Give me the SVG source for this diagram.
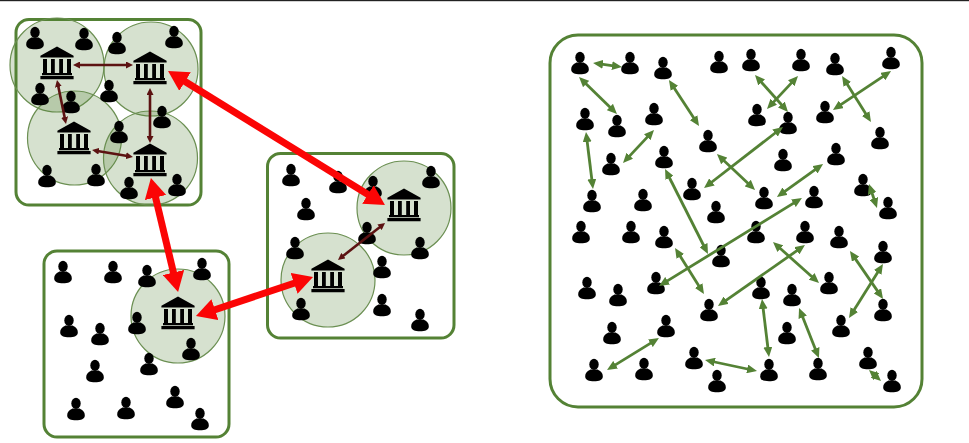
<svg xmlns="http://www.w3.org/2000/svg" width="969" height="443" viewBox="0 0 969 443">
<style>
.box{fill:none;stroke:#548235;stroke-width:3}
.zone{fill:#548235;fill-opacity:.24;stroke:#6b8f52;stroke-width:1.2}
.g line{stroke:#548235;stroke-width:2.8;marker-start:url(#gh);marker-end:url(#gh)}
.d line{stroke:#5c1212;stroke-width:2.6;marker-start:url(#dh);marker-end:url(#dh)}
.r line{stroke:#fb0505;stroke-width:7;marker-start:url(#rh);marker-end:url(#rh)}
</style>
<defs>
<marker id="gh" markerUnits="userSpaceOnUse" markerWidth="10" markerHeight="9" refX="5" refY="4.5" orient="auto-start-reverse"><path d="M0 0L10 4.500L0 9z" fill="#548235"/></marker>
<marker id="dh" markerUnits="userSpaceOnUse" markerWidth="7" markerHeight="7" refX="3" refY="3.5" orient="auto-start-reverse"><path d="M0 0L7 3.500L0 7z" fill="#5c1212"/></marker>
<marker id="rh" markerUnits="userSpaceOnUse" markerWidth="20" markerHeight="22" refX="11" refY="11" orient="auto-start-reverse"><path d="M0 0L20 11L0 22z" fill="#fb0505"/></marker>
<symbol id="person" overflow="visible"><ellipse cx="0" cy="-5.600" rx="4.700" ry="5.600" fill="#000"/><path d="M-8.800 6.500C-8.800 2.800-6.800 1.400-3.600-.5L3.600-.5C6.800 1.400 8.800 2.800 8.800 6.500C8.800 10 5 11.200 0 11.200C-5 11.200-8.800 10-8.800 6.500z" fill="#000"/></symbol>
<symbol id="bank" overflow="visible"><path d="M0-16.500L16.600-7.200L16.600-5.600L-16.600-5.600L-16.600-7.200z M-14-4H-10V10H-14z M-6-4H-2.200V10H-6z M2.200-4H6V10H2.200z M10-4H14V10H10z M-15 10H15V12.200H-15z M-16.600 13H16.600V16.200H-16.600z" fill="#000"/></symbol>
</defs>
<rect width="969" height="443" fill="#fff"/>
<rect width="969" height="1.200" fill="#222"/>
<g id="groupA"><rect class="box" x="16" y="19.500" width="185" height="185.500" rx="13"/></g>
<g id="groupB"><rect class="box" x="267.500" y="153.500" width="186.500" height="184.500" rx="13"/></g>
<g id="groupC"><rect class="box" x="44" y="251" width="185" height="186" rx="13"/></g>
<g id="groupD"><rect class="box" x="550" y="35" width="372" height="372" rx="28"/></g>
<g id="zones">
<circle class="zone" cx="57" cy="65" r="47"/><circle class="zone" cx="151" cy="69" r="47"/><circle class="zone" cx="74.500" cy="138" r="47"/><circle class="zone" cx="150.500" cy="158" r="47"/>
<circle class="zone" cx="404" cy="208" r="47"/><circle class="zone" cx="328" cy="280" r="47"/><circle class="zone" cx="178" cy="316" r="47"/>
</g>
<g id="bank1"><use href="#bank" x="57" y="63"/></g>
<g id="bank2"><use href="#bank" x="150" y="68"/></g>
<g id="bank3"><use href="#bank" x="74" y="138"/></g>
<g id="bank4"><use href="#bank" x="150" y="160"/></g>
<g id="bank5"><use href="#bank" x="404" y="205"/></g>
<g id="bank6"><use href="#bank" x="328" y="276"/></g>
<g id="bank7"><use href="#bank" x="178" y="313"/></g>
<g id="a1"><use href="#person" x="35" y="38"/></g><g id="a2"><use href="#person" x="84" y="39"/></g><g id="a3"><use href="#person" x="117" y="43"/></g><g id="a4"><use href="#person" x="174" y="37"/></g><g id="a5"><use href="#person" x="40" y="94"/></g><g id="a6"><use href="#person" x="109" y="91"/></g><g id="a7"><use href="#person" x="71" y="102"/></g><g id="a8"><use href="#person" x="162" y="117"/></g><g id="a9"><use href="#person" x="119" y="132"/></g><g id="a10"><use href="#person" x="47" y="176"/></g><g id="a11"><use href="#person" x="96" y="175"/></g><g id="a12"><use href="#person" x="129" y="188"/></g><g id="a13"><use href="#person" x="177" y="185"/></g>
<g id="b1"><use href="#person" x="291" y="175"/></g><g id="b2"><use href="#person" x="338" y="182"/></g><g id="b3"><use href="#person" x="373" y="187"/></g><g id="b4"><use href="#person" x="431" y="177"/></g><g id="b5"><use href="#person" x="306" y="209"/></g><g id="b6"><use href="#person" x="367" y="233"/></g><g id="b7"><use href="#person" x="295" y="248"/></g><g id="b8"><use href="#person" x="420" y="248"/></g><g id="b9"><use href="#person" x="382" y="267"/></g><g id="b10"><use href="#person" x="301" y="309"/></g><g id="b11"><use href="#person" x="382" y="305"/></g><g id="b12"><use href="#person" x="420" y="320"/></g>
<g id="c1"><use href="#person" x="63" y="272"/></g><g id="c2"><use href="#person" x="113" y="272"/></g><g id="c3"><use href="#person" x="147" y="276"/></g><g id="c4"><use href="#person" x="202" y="269"/></g><g id="c5"><use href="#person" x="69" y="326"/></g><g id="c6"><use href="#person" x="100" y="334"/></g><g id="c7"><use href="#person" x="137" y="323"/></g><g id="c8"><use href="#person" x="191" y="349"/></g><g id="c9"><use href="#person" x="95" y="371"/></g><g id="c10"><use href="#person" x="149" y="364"/></g><g id="c11"><use href="#person" x="76" y="409"/></g><g id="c12"><use href="#person" x="126" y="408"/></g><g id="c13"><use href="#person" x="175" y="397"/></g><g id="c14"><use href="#person" x="200" y="419"/></g>
<g id="d1"><use href="#person" x="580" y="63"/></g><g id="d2"><use href="#person" x="630" y="63"/></g><g id="d3"><use href="#person" x="663" y="68"/></g><g id="d4"><use href="#person" x="719" y="62"/></g><g id="d5"><use href="#person" x="585" y="119"/></g><g id="d6"><use href="#person" x="617" y="126"/></g><g id="d7"><use href="#person" x="654" y="114"/></g><g id="d8"><use href="#person" x="708" y="141"/></g><g id="d9"><use href="#person" x="611" y="164"/></g><g id="d10"><use href="#person" x="664" y="157"/></g><g id="d11"><use href="#person" x="692" y="189"/></g><g id="d12"><use href="#person" x="592" y="201"/></g><g id="d13"><use href="#person" x="643" y="200"/></g><g id="d14"><use href="#person" x="716" y="212"/></g>
<g id="d15"><use href="#person" x="751" y="60"/></g><g id="d16"><use href="#person" x="801" y="60"/></g><g id="d17"><use href="#person" x="835" y="64"/></g><g id="d18"><use href="#person" x="891" y="58"/></g><g id="d19"><use href="#person" x="757" y="115"/></g><g id="d20"><use href="#person" x="788" y="123"/></g><g id="d21"><use href="#person" x="825" y="112"/></g><g id="d22"><use href="#person" x="880" y="138"/></g><g id="d23"><use href="#person" x="783" y="160"/></g><g id="d24"><use href="#person" x="836" y="154"/></g><g id="d25"><use href="#person" x="863" y="185"/></g><g id="d26"><use href="#person" x="888" y="208"/></g><g id="d27"><use href="#person" x="764" y="198"/></g><g id="d28"><use href="#person" x="814" y="197"/></g>
<g id="d29"><use href="#person" x="581" y="232"/></g><g id="d30"><use href="#person" x="631" y="232"/></g><g id="d31"><use href="#person" x="664" y="237"/></g><g id="d32"><use href="#person" x="721" y="256"/></g><g id="d33"><use href="#person" x="587" y="288"/></g><g id="d34"><use href="#person" x="618" y="295"/></g><g id="d35"><use href="#person" x="656" y="283"/></g><g id="d36"><use href="#person" x="709" y="310"/></g><g id="d37"><use href="#person" x="612" y="333"/></g><g id="d38"><use href="#person" x="666" y="326"/></g><g id="d39"><use href="#person" x="594" y="370"/></g><g id="d40"><use href="#person" x="644" y="369"/></g><g id="d41"><use href="#person" x="694" y="358"/></g><g id="d42"><use href="#person" x="717" y="381"/></g>
<g id="d43"><use href="#person" x="756" y="232"/></g><g id="d44"><use href="#person" x="805" y="232"/></g><g id="d45"><use href="#person" x="839" y="237"/></g><g id="d46"><use href="#person" x="883" y="252"/></g><g id="d47"><use href="#person" x="829" y="283"/></g><g id="d48"><use href="#person" x="761" y="288"/></g><g id="d49"><use href="#person" x="792" y="295"/></g><g id="d50"><use href="#person" x="883" y="310"/></g><g id="d51"><use href="#person" x="841" y="326"/></g><g id="d52"><use href="#person" x="787" y="333"/></g><g id="d53"><use href="#person" x="769" y="370"/></g><g id="d54"><use href="#person" x="818" y="369"/></g><g id="d55"><use href="#person" x="868" y="358"/></g><g id="d56"><use href="#person" x="892" y="381"/></g>
<g id="connectors">
<g class="g">
<line x1="598" y1="63.700" x2="617" y2="66.300"/><line x1="582.600" y1="80.500" x2="613.400" y2="110.500"/><line x1="671.700" y1="84.200" x2="696.300" y2="121.800"/><line x1="650.600" y1="133.600" x2="626.400" y2="159.400"/><line x1="586.600" y1="137" x2="592.400" y2="184"/><line x1="720.600" y1="157.500" x2="751.400" y2="186.500"/><line x1="779" y1="130" x2="708" y2="185"/><line x1="758.300" y1="78.700" x2="784.700" y2="108.300"/><line x1="794.600" y1="79.600" x2="770.400" y2="105.400"/><line x1="844.700" y1="80.200" x2="868.300" y2="117.800"/><line x1="886.900" y1="73.800" x2="837.100" y2="107.200"/><line x1="819" y1="166.900" x2="781" y2="194.100"/><line x1="870.600" y1="188.800" x2="875.400" y2="203.200"/><line x1="797.700" y1="200.600" x2="663.300" y2="283.400"/><line x1="667.300" y1="173.500" x2="705.700" y2="249.500"/><line x1="677.700" y1="252.200" x2="701.300" y2="289.800"/><line x1="800.900" y1="247.900" x2="722.100" y2="303.100"/><line x1="776.700" y1="245.300" x2="815.300" y2="279.700"/><line x1="852.800" y1="255.100" x2="880.200" y2="294.900"/><line x1="880.300" y1="268.200" x2="851.700" y2="313.800"/><line x1="762.600" y1="304" x2="768.400" y2="352"/><line x1="800.900" y1="312.600" x2="817.100" y2="353.400"/><line x1="654.700" y1="340.600" x2="611.300" y2="367.400"/><line x1="709.900" y1="361" x2="752.100" y2="370"/><line x1="872.700" y1="373.400" x2="877.300" y2="377.600"/>
</g>
<g class="d">
<line x1="77" y1="65" x2="129" y2="65"/><line x1="57.800" y1="84" x2="65.200" y2="120"/><line x1="150" y1="92" x2="150" y2="139"/><line x1="96" y1="150.700" x2="129" y2="156.300"/><line x1="381.900" y1="225.500" x2="341.100" y2="257.500"/>
</g>
<g class="r">
<line x1="175.700" y1="75.700" x2="377.300" y2="200.300"/><line x1="153" y1="186.800" x2="176" y2="283.200"/><line x1="204.500" y1="313.200" x2="304.500" y2="279.800"/>
</g>
</g>
</svg>
